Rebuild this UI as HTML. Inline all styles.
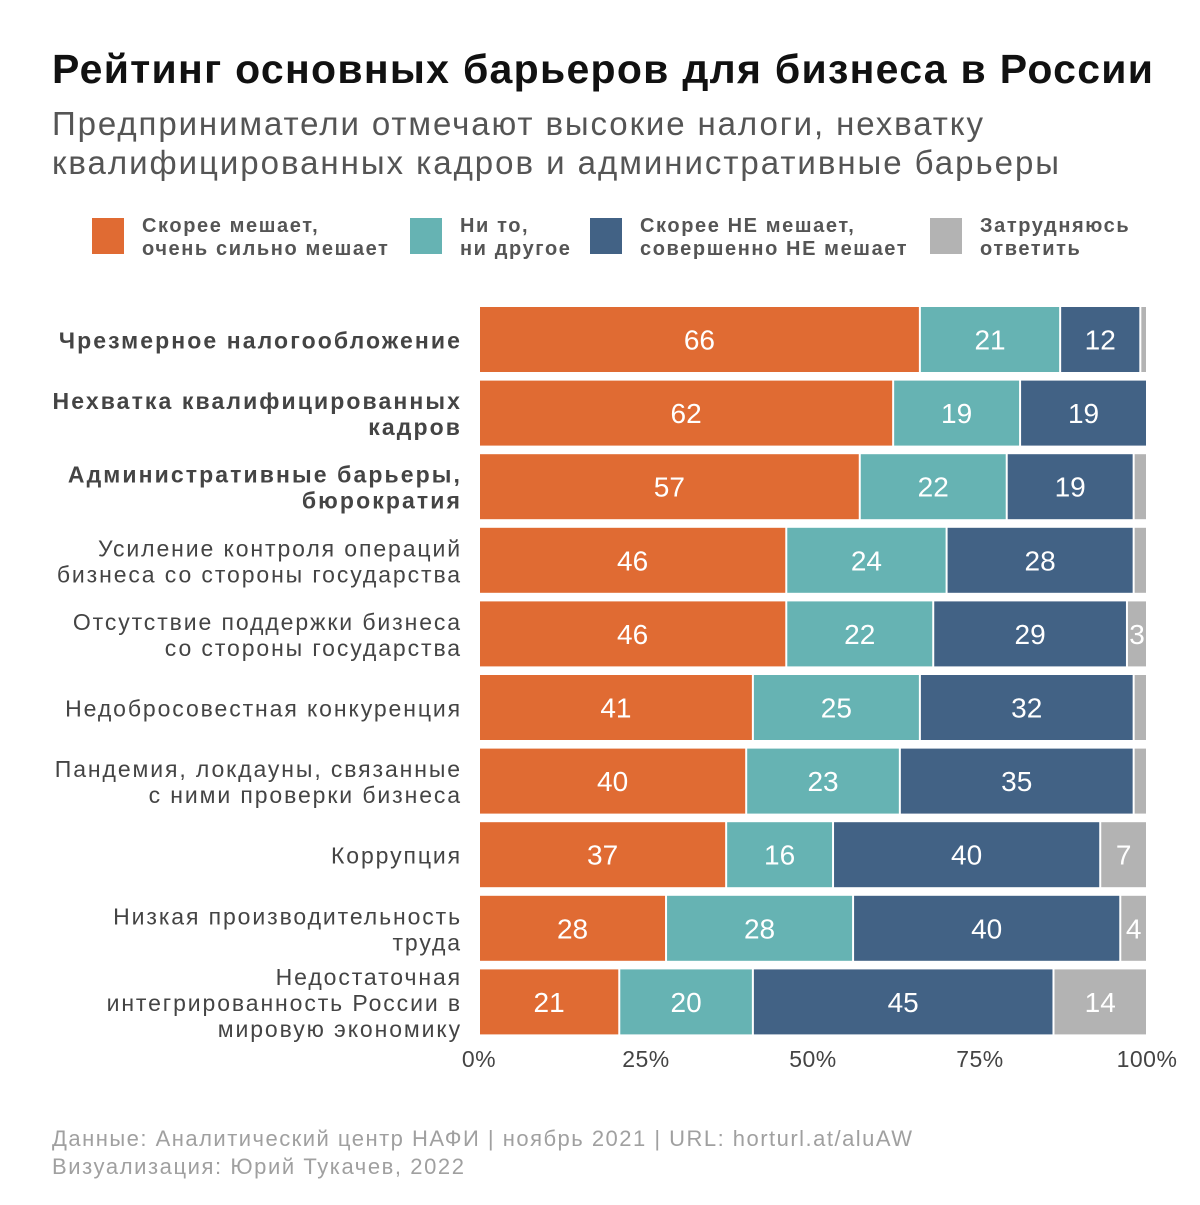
<!DOCTYPE html>
<html><head><meta charset="utf-8">
<style>
body{margin:0;background:#fff;width:1200px;height:1200px;overflow:hidden;font-family:"Liberation Sans",sans-serif;}
svg text{font-family:"Liberation Sans","DejaVu Sans",sans-serif;}
</style></head>
<body>
<svg id="chart" width="1200" height="1200" xmlns="http://www.w3.org/2000/svg">
<text x="52" y="83" font-size="41" font-weight="bold" fill="#111" textLength="1101" lengthAdjust="spacing">Рейтинг основных барьеров для бизнеса в России</text>
<text x="52" y="135" font-size="33" fill="#555" textLength="931" lengthAdjust="spacing">Предприниматели отмечают высокие налоги, нехватку</text>
<text x="52" y="174" font-size="33" fill="#555" textLength="1007" lengthAdjust="spacing">квалифицированных кадров и административные барьеры</text>
<g id="legend"></g>
<g id="bars"></g>
<g id="ylabels"></g>
<g id="xticks"></g>
<text x="52" y="1146" font-size="22" fill="#a0a0a0" textLength="860" lengthAdjust="spacing">Данные: Аналитический центр НАФИ | ноябрь 2021 | URL: horturl.at/aluAW</text>
<text x="52" y="1174" font-size="22" fill="#a0a0a0" textLength="412" lengthAdjust="spacing">Визуализация: Юрий Тукачев, 2022</text>
</svg>
<script>
const categories=[["Чрезмерное налогообложение"],["Нехватка квалифицированных","кадров"],["Административные барьеры,","бюрократия"],["Усиление контроля операций","бизнеса со стороны государства"],["Отсутствие поддержки бизнеса","со стороны государства"],["Недобросовестная конкуренция"],["Пандемия, локдауны, связанные","с ними проверки бизнеса"],["Коррупция"],["Низкая производительность","труда"],["Недостаточная","интегрированность России в","мировую экономику"]];
const boldRows=[true,true,true,false,false,false,false,false,false,false];
const hinders=[66,62,57,46,46,41,40,37,28,21];
const neutral=[21,19,22,24,22,25,23,16,28,20];
const notHinders=[12,19,19,28,29,32,35,40,40,45];
const unsure=[1,0,2,2,3,2,2,7,4,14];
const tickLabels=["0%","25%","50%","75%","100%"];
const tickValues=[0,25,50,75,100];
const seriesNames=[["Скорее мешает,","очень сильно мешает"],["Ни то,","ни другое"],["Скорее НЕ мешает,","совершенно НЕ мешает"],["Затрудняюсь","ответить"]];
const colors=["#E06B33","#66B3B3","#426285","#B3B3B3"];
const NS="http://www.w3.org/2000/svg";
const X0=479,X1=1147,Y0=307,STEP=73.6,BH=65;
const xs=v=>X0+(X1-X0)*v/100;
const yc=i=>Y0+i*STEP+BH/2;
function mk(tag,attrs,parent){const e=document.createElementNS(NS,tag);for(const k in attrs)e.setAttribute(k,attrs[k]);parent.appendChild(e);return e;}
const series=[hinders,neutral,notHinders,unsure];
const bars=document.getElementById('bars');
categories.forEach((c,i)=>{
  let cum=0;
  series.forEach((s,j)=>{
    const v=s[i]; if(v<=0)return;
    const x=xs(cum),w=xs(cum+v)-xs(cum);
    const r=mk('rect',{x:x+1,y:yc(i)-BH/2,width:Math.max(w-2,1),height:BH,fill:colors[j]},bars);
    
    
    if(v>=3){
      const t=mk('text',{x:x+w/2,y:yc(i)+10,'text-anchor':'middle','font-size':28,fill:'#fff'},bars);
      t.textContent=v;
      
      
    }
    cum+=v;
  });
});
const yl=document.getElementById('ylabels');
categories.forEach((lines,i)=>{
  const n=lines.length;
  lines.forEach((l,k)=>{
    const t=mk('text',{x:462,y:yc(i)+9+(k-(n-1)/2)*26,'text-anchor':'end','font-size':23,'font-weight':boldRows[i]?'bold':'normal',fill:'#444','letter-spacing':boldRows[i]?'2.1':'1.9'},yl);
    t.textContent=l;
    
    
  });
});
const xt=document.getElementById('xticks');
tickValues.forEach((v,i)=>{
  const t=mk('text',{x:xs(v),y:1067,'text-anchor':'middle','font-size':23,fill:'#444','letter-spacing':'0.5'},xt);
  t.textContent=tickLabels[i];
  
  
});
const lg=document.getElementById('legend');
const lx=[92,410,590,930];
seriesNames.forEach((nm,j)=>{
  const r=mk('rect',{x:lx[j],y:218,width:32,height:36,fill:colors[j]},lg);
  
  
  nm.forEach((l,k)=>{
    const t=mk('text',{x:lx[j]+50,y:232+k*23,'font-size':20,'font-weight':'bold',fill:'#555','letter-spacing':'1.6'},lg);
    t.textContent=l;
    
    
  });
});
</script>
</body></html>
